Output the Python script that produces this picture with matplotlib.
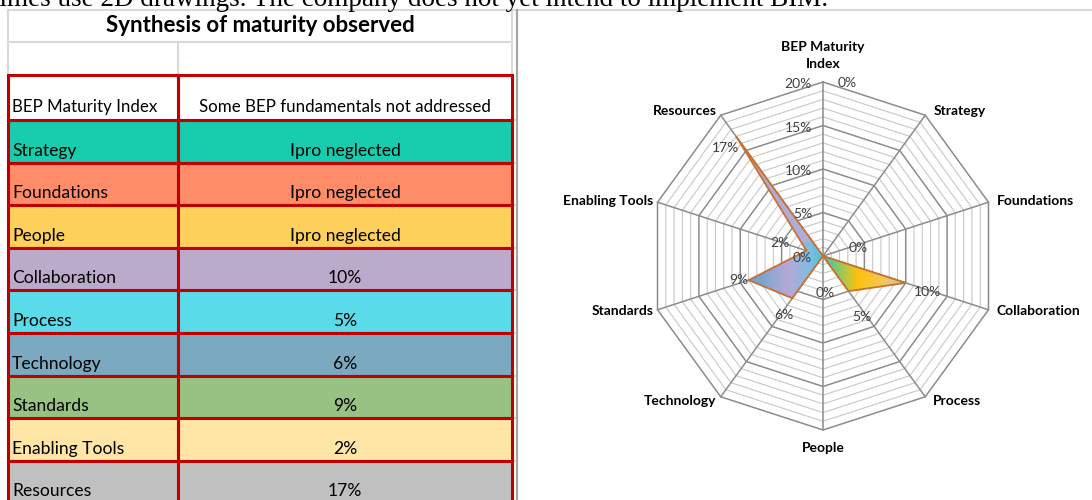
import numpy as np
import matplotlib.pyplot as plt
from matplotlib.patches import Polygon, Rectangle

# table data
table_title = 'Synthesis of maturity observed'
header = ['BEP Maturity Index', 'Some BEP fundamentals not addressed']
rows = ['Strategy', 'Foundations', 'People', 'Collaboration', 'Process',
        'Technology', 'Standards', 'Enabling Tools', 'Resources']
row_vals = ['Ipro neglected', 'Ipro neglected', 'Ipro neglected', '10%', '5%',
            '6%', '9%', '2%', '17%']
row_colors = ['#17CDAE', '#FF8C69', '#FCD05B', '#BBABCB', '#59DBEA',
              '#7AA9C0', '#98C283', '#FFE5A6', '#C0C0C0']

# radar data
axes_names = ['BEP Maturity\nIndex', 'Strategy', 'Foundations', 'Collaboration', 'Process',
              'People', 'Technology', 'Standards', 'Enabling Tools', 'Resources']
values = [0, 0, 0, 10, 5, 0, 6, 9, 2, 17]
radar_max = 20
radar_ticks = [0, 5, 10, 15, 20]

intro = 'times use 2D drawings. The company does not yet intend to implement BIM.'

W, H = 1092, 500
fig = plt.figure(figsize=(W / 100, H / 100), dpi=100)
ax = fig.add_axes([0, 0, 1, 1])
ax.set_xlim(0, W)
ax.set_ylim(H, 0)
ax.axis('off')

font = 'Lato'
red = '#C00000'
grey = '#D9D9D9'

# text cut off at top of the page
ax.text(-8, 5.5, intro, family='Liberation Serif', fontsize=19.5, va='baseline', ha='left')

# table geometry (pixels)
x0, xdiv, x1 = 8, 178, 512
y_title, y_empty, y_head, y_rows = 10, 42, 75, 120
row_h = 42.6

# excel gridlines
gkw = dict(color=grey, lw=1.5, zorder=0.5)
ax.plot([x0, W], [y_title, y_title], **gkw)
ax.plot([x0, x0], [y_title, H], **gkw)
ax.plot([x0, x1], [y_empty, y_empty], **gkw)
ax.plot([x0, x1], [y_head, y_head], **gkw)
ax.plot([xdiv, xdiv], [y_empty, y_head], **gkw)
ax.plot([x1, x1], [y_title, y_head], **gkw)
for i in range(len(rows) + 1):
    yy = y_rows + i * row_h
    ax.plot([x0, 517], [yy, yy], **gkw)
ax.plot([517, 517], [y_title, H], color='#A6A6A6', lw=1.6, zorder=0.6)

ax.text((x0 + x1) / 2, 25, table_title, family=font, fontweight='bold', fontsize=16,
        ha='center', va='center')

# header cells
ax.add_patch(Rectangle((x0, y_head), xdiv - x0, y_rows - y_head, fill=False, ec=red, lw=2.2, zorder=3))
ax.add_patch(Rectangle((xdiv, y_head), x1 - xdiv, y_rows - y_head, fill=False, ec=red, lw=2.2, zorder=3))
ax.text(x0 + 4, y_rows - 8, header[0], family=font, fontsize=12.2, va='baseline')
ax.text((xdiv + x1) / 2, y_rows - 8, header[1], family=font, fontsize=12.2,
        va='baseline', ha='center')

for i, (name, val, c) in enumerate(zip(rows, row_vals, row_colors)):
    top = y_rows + i * row_h
    for left, right in [(x0, xdiv), (xdiv, x1)]:
        ax.add_patch(Rectangle((left, top), right - left, row_h, fc=c, ec=red, lw=2.2, zorder=2))
    ax.text(x0 + 4, top + row_h - 7, name, family=font, fontsize=12.6, va='baseline', zorder=4)
    ax.text((xdiv + x1) / 2, top + row_h - 7, val, family=font, fontsize=12.6,
            va='baseline', ha='center', zorder=4)

# radar chart in its own axes, units = percent
cx, cy, R = 823, 256, 174
ppu = R / radar_max
left_px, right_px = 540, W
rax = fig.add_axes([left_px / W, 0, (right_px - left_px) / W, 1])
rax.axis('off')

n = len(values)
ang = np.arange(n) * 2 * np.pi / n
sx, sy = np.sin(ang), np.cos(ang)

# rings every 1%
for k in range(1, radar_max + 1):
    xs = np.append(k * sx, k * sx[0])
    ys = np.append(k * sy, k * sy[0])
    if k % 5 == 0:
        rax.plot(xs, ys, color='#8C8C8C', lw=1.1, zorder=2)
    else:
        rax.plot(xs, ys, color='#C8C8C8', lw=0.8, zorder=1)
for a, b in zip(sx, sy):
    rax.plot([0, radar_max * a], [0, radar_max * b], color='#8C8C8C', lw=1.1, zorder=2)

# filled series with multicolour gradient
v = np.array(values, dtype=float)
pts = np.column_stack([v * sx, v * sy])
poly = Polygon(pts, closed=True, fc='none', ec='#C8702E', lw=1.3, zorder=5)
rax.add_patch(poly)

gx, gy = np.meshgrid(np.linspace(-11, 11, 400), np.linspace(-6, 16, 400))
img = np.zeros(gx.shape + (3,))
# right side: teal -> yellow -> grey
rstops = [0, 1.8, 4, 7, 10.5]
rcols = np.array([[0.20, 0.78, 0.82], [0.55, 0.78, 0.40], [1.0, 0.76, 0.05],
                  [0.95, 0.78, 0.35], [0.72, 0.76, 0.82]])
# left side: cyan -> lavender -> blue grey
lstops = [-10, -7, -4, -1.5, 0]
lcols = np.array([[0.42, 0.60, 0.80], [0.48, 0.65, 0.82], [0.72, 0.66, 0.84],
                  [0.50, 0.74, 0.88], [0.30, 0.76, 0.88]])
for ch in range(3):
    right = np.interp(gx, rstops, rcols[:, ch])
    leftc = np.interp(gx, lstops, lcols[:, ch])
    img[..., ch] = np.where(gx > 0, right, leftc)
# upper spike: lavender turning orange towards the tip
t = np.clip((gy - 8) / 8, 0, 1)[..., None] * (gx < 0)[..., None]
base_up = np.array([0.68, 0.68, 0.86])
up = (gy > 1.5)[..., None] * (gx < 0)[..., None]
img = np.where(up, base_up, img)
img = img * (1 - t) + np.array([0.93, 0.50, 0.22]) * t
im = rax.imshow(img, extent=[-11, 11, -6, 16], origin='lower', zorder=4,
                interpolation='bilinear', aspect='auto')
im.set_clip_path(poly)
rax.set_xlim((left_px - cx) / ppu, (right_px - cx) / ppu)
rax.set_ylim((cy - H) / ppu, cy / ppu)

tkw = dict(textcoords='offset pixels', family=font, fontsize=10, color='#404040', zorder=6)
# axis tick labels
for tk in radar_ticks:
    rax.annotate(f'{tk}%', (0, tk), xytext=(-11, -2), ha='right', va='center', **tkw)

# data labels (offsets in pixels, None = hidden)
lab_off = [(24, 173), None, (35, 8), (22, -9), (13, -26), (2, -37),
           (-8, -17), (-10, 0), (-27, 8), (-11, -12)]
for val, a, b, off in zip(values, sx, sy, lab_off):
    if off is None:
        continue
    rax.annotate(f'{val}%', (val * a, val * b), xytext=off, ha='center', va='center', **tkw)

# category labels
ckw = dict(textcoords='offset pixels', family=font, fontweight='bold', fontsize=10)
for name, a, b in zip(axes_names, sx, sy):
    px, py = radar_max * a, radar_max * b
    if abs(a) < 0.1:
        if b > 0:
            rax.annotate(name, (px, py), xytext=(0, 12), ha='center', va='bottom',
                         linespacing=1.5, **ckw)
        else:
            rax.annotate(name, (px, py), xytext=(0, -12), ha='center', va='top', **ckw)
    else:
        ha = 'left' if a > 0 else 'right'
        dx = 8 if a > 0 else -4
        rax.annotate(name, (px, py), xytext=(dx, 5 * b), ha=ha, va='center', **ckw)

fig.savefig('out.png', dpi=100)
